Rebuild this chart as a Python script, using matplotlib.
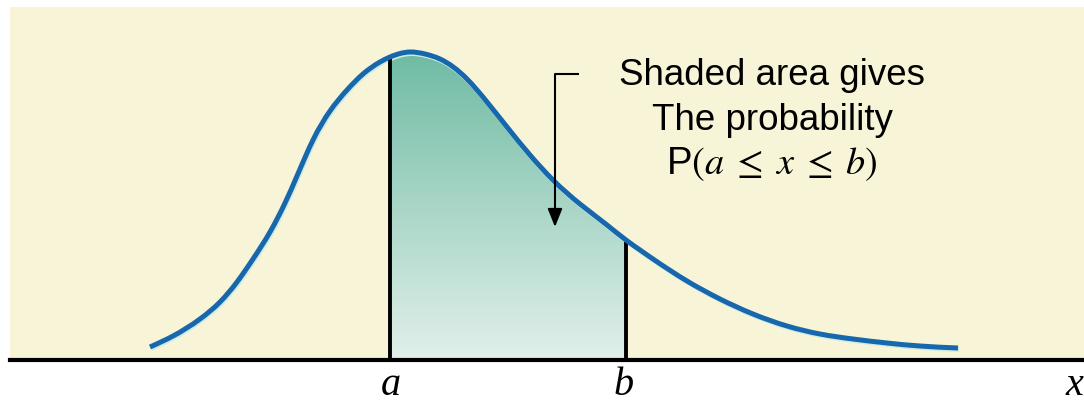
import numpy as np
import matplotlib
matplotlib.use("Agg")
import matplotlib.pyplot as plt
from matplotlib.colors import LinearSegmentedColormap
from matplotlib.patches import FancyArrowPatch, PathPatch
from matplotlib.path import Path
import matplotlib.transforms as mtransforms

plt.rcParams['mathtext.fontset'] = 'stix'

# ---- data (x position, curve height above baseline) ----
curve_x = [150, 173, 200, 220, 237, 253, 270, 285, 297, 313, 330, 347, 363, 380, 390,
           400, 410, 425, 440, 467, 487, 507, 530, 553, 580, 607, 626, 640, 653, 687,
           720, 753, 787, 820, 853, 887, 920, 958]
curve_h = [13, 24, 41, 58, 78, 101, 128, 157, 184, 220, 249, 270, 286, 298, 303,
           306.5, 308, 306, 301, 281, 258, 233, 205, 180, 156, 135, 120, 110, 101, 79,
           61, 46, 34, 26, 21, 17, 14, 12]
a_pos = 390
b_pos = 626
tick_labels = ['a', 'b']
axis_label = 'x'
note_lines = ['Shaded area gives', 'The probability', r'P$(a\;\leq\;x\;\leq\;b)$']


def spline_path(xs, ys):
    """Natural cubic spline through the points, expressed as a Bezier path."""
    x = np.asarray(xs, float)
    y = np.asarray(ys, float)
    n = len(x)
    h = np.diff(x)
    A = np.zeros((n, n))
    r = np.zeros(n)
    A[0, 0] = A[-1, -1] = 1.0
    for i in range(1, n - 1):
        A[i, i - 1] = h[i - 1]
        A[i, i] = 2 * (h[i - 1] + h[i])
        A[i, i + 1] = h[i]
        r[i] = 6 * ((y[i + 1] - y[i]) / h[i] - (y[i] - y[i - 1]) / h[i - 1])
    M = np.linalg.solve(A, r)
    d = np.zeros(n)
    d[:-1] = (y[1:] - y[:-1]) / h - h * (2 * M[:-1] + M[1:]) / 6
    d[-1] = (y[-1] - y[-2]) / h[-1] + h[-1] * (M[-2] + 2 * M[-1]) / 6
    verts = [(x[0], y[0])]
    codes = [Path.MOVETO]
    for i in range(n - 1):
        verts += [(x[i] + h[i] / 3, y[i] + d[i] * h[i] / 3),
                  (x[i + 1] - h[i] / 3, y[i + 1] - d[i + 1] * h[i] / 3),
                  (x[i + 1], y[i + 1])]
        codes += [Path.CURVE4] * 3
    return Path(np.array(verts), codes)


W, H = 1084, 402
fig = plt.figure(figsize=(W / 100, H / 100), dpi=100)
fig.patch.set_facecolor('white')
ax = fig.add_axes([10 / W, (H - 361) / H, 1074 / W, 353 / H])
ax.set_xlim(10, 1084)
ax.set_ylim(0, 353)
ax.set_facecolor('#F8F4D8')
for s in ax.spines.values():
    s.set_visible(False)
ax.set_xticks([])
ax.set_yticks([])

cx = np.array(curve_x, dtype=float)
ch = np.array(curve_h, dtype=float)

curve_path = spline_path(cx, ch)

# gradient shaded region between a and b (closed shape following the curve)
ia = int(np.where(cx == a_pos)[0][0])
ib = int(np.where(cx == b_pos)[0][0])
seg_verts = curve_path.vertices[3 * ia: 3 * ib + 1]
seg_codes = [Path.LINETO] + [Path.CURVE4] * (3 * (ib - ia))
fill_verts = np.vstack([[[a_pos, 0]], seg_verts, [[b_pos, 0], [a_pos, 0]]])
fill_codes = [Path.MOVETO] + seg_codes + [Path.LINETO, Path.CLOSEPOLY]
fill_path = Path(fill_verts, fill_codes)
clip_patch = PathPatch(fill_path, facecolor='none', edgecolor='none')
ax.add_patch(clip_patch)
cmap = LinearSegmentedColormap.from_list('g', ['#E2F0EB', '#6FBBA3'])
grad = np.linspace(0, 1, 256).reshape(-1, 1)
im = ax.imshow(grad, extent=[a_pos, b_pos, 0, ch.max()], origin='lower',
               cmap=cmap, aspect='auto', zorder=1, interpolation='bilinear')
im.set_clip_path(clip_patch)

# light halo under the curve
halo = mtransforms.offset_copy(ax.transData, fig=fig, x=1.0, y=-1.5, units='dots')
ax.add_patch(PathPatch(curve_path, facecolor='none', edgecolor='#CFEAE3', lw=3.6,
                       transform=halo, zorder=2, capstyle='butt'))
# curve
ax.add_patch(PathPatch(curve_path, facecolor='none', edgecolor='#1767AC', lw=3.6,
                       zorder=4, capstyle='butt', joinstyle='round'))

# vertical lines at a and b
ha = ch[ia]
hb = ch[ib]
ax.plot([a_pos, a_pos], [0, ha - 2], color='black', lw=2.8, zorder=3, solid_capstyle='butt')
ax.plot([b_pos, b_pos], [0, hb - 2], color='black', lw=2.8, zorder=3, solid_capstyle='butt')

# baseline
ax.axhline(0, color='black', lw=3.0, zorder=5, clip_on=False)

# annotation text
for i, (txt, yb) in enumerate(zip(note_lines, [361 - 85, 361 - 130, 361 - 174])):
    ax.text(772, yb, txt, ha='center', va='baseline',
            fontsize=26.5 if i < 2 else 27.5,
            family='Liberation Sans', color='black', zorder=6)

# bracket arrow
ax.plot([579, 555], [361 - 75, 361 - 75], color='black', lw=1.5, zorder=6,
        solid_capstyle='butt')
arr = FancyArrowPatch((555, 361 - 75), (555, 361 - 228),
                      arrowstyle='-|>,head_length=0.55,head_width=0.22',
                      mutation_scale=20, lw=1.5, color='black', zorder=6,
                      shrinkA=0, shrinkB=0)
ax.add_patch(arr)

# axis labels (figure text placed via data coordinates)
to_fig = ax.transData + fig.transFigure.inverted()
serif_it = dict(family='Liberation Serif', style='italic', fontsize=29)
for xpos, ypos, lab in [(a_pos + 1, -34, tick_labels[0]),
                        (b_pos - 2, -34, tick_labels[1]),
                        (1074, -34, axis_label)]:
    fx, fy = to_fig.transform((xpos, ypos))
    fig.text(fx, fy, lab, ha='center', va='baseline', **serif_it)

fig.savefig('out.png', dpi=100, facecolor='white')
